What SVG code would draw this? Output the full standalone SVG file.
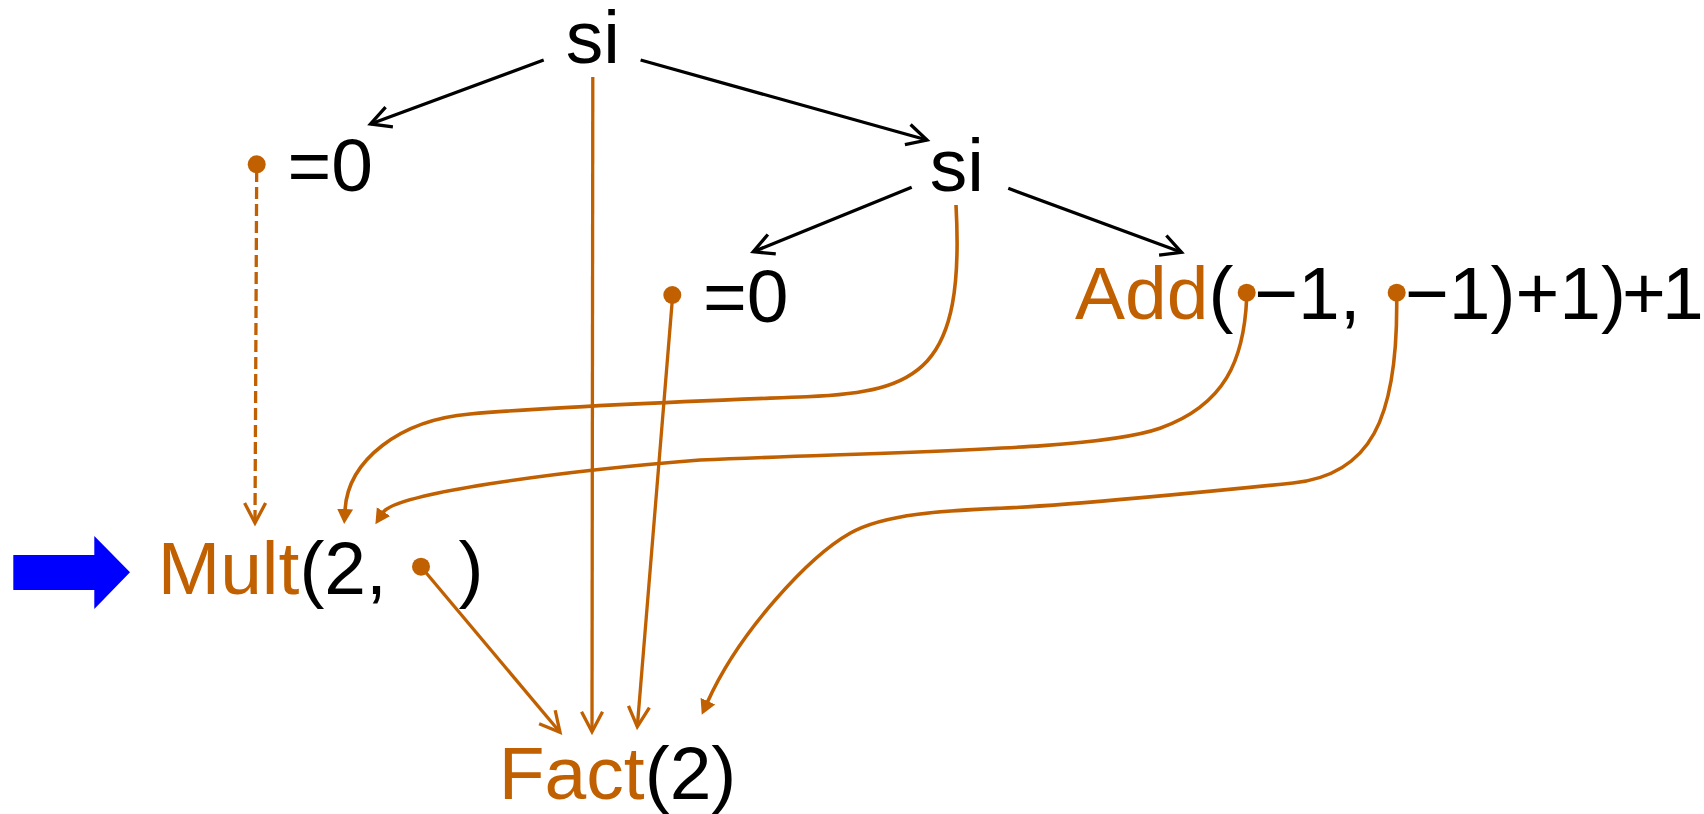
<svg xmlns="http://www.w3.org/2000/svg" width="1704" height="814" viewBox="0 0 1704 814">
<defs>
<style>
text{font-family:"Liberation Sans",Arial,Helvetica,sans-serif;font-size:75px;fill:#000}
.o{fill:#C06000}
.eb{fill:none;stroke:#000;stroke-width:3.3}
.eo{fill:none;stroke:#C06000;stroke-width:3.3}
.ec{fill:none;stroke:#C06000;stroke-width:3.6}
.dot{fill:#C06000}
</style>
<marker id="vB" markerUnits="userSpaceOnUse" viewBox="-24 -13 28 26" refX="0" refY="0" markerWidth="28" markerHeight="26" orient="auto">
<path d="M-20,-10.5 L0,0 L-20,10.5" fill="none" stroke="#000" stroke-width="3.3"/>
</marker>
<marker id="vO" markerUnits="userSpaceOnUse" viewBox="-24 -13 28 26" refX="0" refY="0" markerWidth="28" markerHeight="26" orient="auto">
<path d="M-20,-10.5 L0,0 L-20,10.5" fill="none" stroke="#C06000" stroke-width="3.3"/>
</marker>
<marker id="fO" markerUnits="userSpaceOnUse" viewBox="0 -9 16 18" refX="1" refY="0" markerWidth="16" markerHeight="18" orient="auto">
<path d="M0,-8 L15,0 L0,8 z" fill="#C06000"/>
</marker>
</defs>
<rect width="1704" height="814" fill="#fff"/>

<g id="connectors">
<line class="eb" x1="543.7" y1="60" x2="370.5" y2="124" marker-end="url(#vB)"/>
<line class="eb" x1="640.6" y1="60" x2="927" y2="140" marker-end="url(#vB)"/>
<line class="eb" x1="911.7" y1="187.3" x2="753.3" y2="251.7" marker-end="url(#vB)"/>
<line class="eb" x1="1008.3" y1="188.3" x2="1181.5" y2="252.3" marker-end="url(#vB)"/>
<line class="eo" x1="256.7" y1="170" x2="255" y2="523" stroke-dasharray="12 5" marker-end="url(#vO)"/>
<line class="eo" x1="592.8" y1="77" x2="592" y2="731.7" marker-end="url(#vO)"/>
<line class="eo" x1="672.3" y1="300" x2="637.3" y2="726.7" marker-end="url(#vO)"/>
<line class="eo" x1="421" y1="566.7" x2="560" y2="732.3" marker-end="url(#vO)"/>
<path class="ec" d="M956,205 C965,370 920,392 806.7,396.7 C700,401 560,406 470,414 C400,420 348,460 345,510" marker-end="url(#fO)"/>
<path class="ec" d="M1246.7,298 C1244,360 1225,405 1160,428.3 C1101,449 950,450 700,460 C550,472 395,494 383,512.5" marker-end="url(#fO)"/>
<path class="ec" d="M1396.7,298 C1398,420 1370,475 1293,483 C1220,490.6 1060,506 1000,508.3 C950,510.5 885,513 850,533.3 C810,556 740,630 707.5,702" marker-end="url(#fO)"/>
</g>

<g id="arrow-blue">
<polygon points="13.3,555 94.3,555 94.3,536 130,572.3 94.3,609 94.3,590 13.3,590" fill="#0000FF"/>
</g>

<g id="node-si1">
<text x="565.7" y="63">si</text>
</g>
<g id="node-eq0-1">
<circle class="dot" cx="256.7" cy="164.3" r="9"/>
<text x="287.4" y="190.7">=0</text>
</g>
<g id="node-si2">
<text x="929.7" y="191">si</text>
</g>
<g id="node-eq0-2">
<circle class="dot" cx="672.3" cy="295" r="9"/>
<text x="703" y="321.7">=0</text>
</g>
<g id="node-add">
<text y="319.3"><tspan class="o" x="1075">Add</tspan><tspan x="1208.4">(</tspan><tspan x="1254.2">−1,</tspan><tspan x="1405">−1)+1)</tspan><tspan x="1622">+</tspan><tspan x="1662">1</tspan></text>
<circle class="dot" cx="1246.7" cy="292.7" r="9"/>
<circle class="dot" cx="1396.7" cy="292.7" r="9"/>
</g>
<g id="node-mult">
<text y="594"><tspan class="o" x="157.7">Mult</tspan><tspan x="299.4">(2,</tspan><tspan x="458.5">)</tspan></text>
<circle class="dot" cx="421" cy="566.7" r="9"/>
</g>
<g id="node-fact">
<text x="498.8" y="799"><tspan class="o">Fact</tspan>(2)</text>
</g>
</svg>
